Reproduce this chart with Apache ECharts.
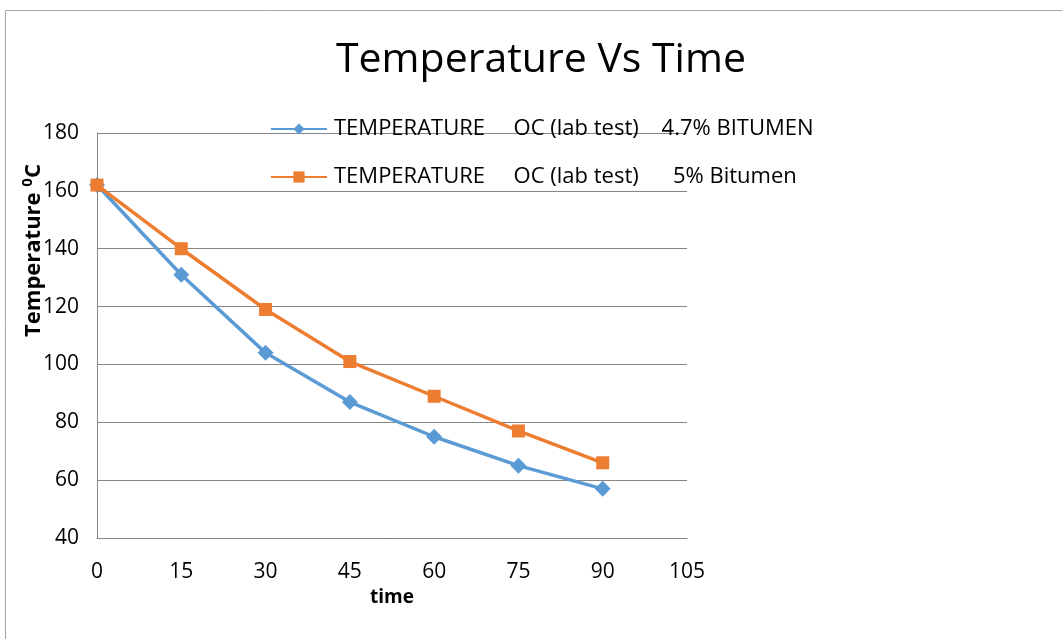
<!DOCTYPE html>
<html><head><meta charset="utf-8">
<script src="https://cdn.jsdelivr.net/npm/echarts@6/dist/echarts.min.js"></script>
<style>html,body{margin:0;padding:0;background:#fff}#c{width:1062px;height:639px}</style>
</head><body><div id="c"></div>
<script>
const times = [0, 15, 30, 45, 60, 75, 90];
const temp47 = [162, 131, 104, 87, 75, 65, 57];
const temp5 = [162, 140, 119, 101, 89, 77, 66];
const seriesNames = ['TEMPERATURE     OC (lab test)    4.7% BITUMEN', 'TEMPERATURE     OC (lab test)      5% Bitumen'];
const titleText = 'Temperature Vs Time';

const FONT = 'Open Sans';
const chart = echarts.init(document.getElementById('c'));
chart.setOption({
  backgroundColor: '#fff',
  animation: false,
  title: {text: titleText, left: 331, top: 35, textStyle: {fontFamily: FONT, fontWeight: 'normal', fontSize: 41, color: '#000'}},
  graphic: [{type: 'polyline', shape: {points: [[5.5, 639], [5.5, 10.5], [1062, 10.5]]}, style: {stroke: '#a6a6a6', lineWidth: 1, fill: null}, z: -1}],
  legend: {
    orient: 'vertical', left: 265, top: 113, itemGap: 26, itemWidth: 56, itemHeight: 14,
    textStyle: {fontFamily: FONT, fontSize: 22, color: '#000', padding: [0, 0, 0, 2]},
    data: seriesNames
  },
  grid: {left: 97, right: 375, top: 133, bottom: 101},
  xAxis: {
    type: 'value', min: 0, max: 105, interval: 15,
    name: 'time', nameLocation: 'middle', nameGap: 50,
    nameTextStyle: {fontFamily: FONT, fontWeight: 'bold', fontSize: 19, color: '#000'},
    axisLine: {lineStyle: {color: '#868686'}}, axisTick: {show: false},
    axisLabel: {fontFamily: FONT, fontSize: 21, color: '#000', margin: 24},
    splitLine: {show: false}
  },
  yAxis: {
    type: 'value', min: 40, max: 180, interval: 20,
    name: 'Temperature {sup|0}C', nameLocation: 'middle', nameGap: 50, nameRotate: 90,
    nameMoveOverlap: false,
    nameTextStyle: {fontFamily: FONT, fontWeight: 'bold', fontSize: 22, color: '#000', padding: [0, 0, 0, 170],
      rich: {sup: {fontFamily: FONT, fontWeight: 'bold', fontSize: 15, verticalAlign: 'top', padding: [0, 0, 12, 0]}}},
    axisLine: {show: true, lineStyle: {color: '#868686'}}, axisTick: {show: false},
    axisLabel: {fontFamily: FONT, fontSize: 21, color: '#000', margin: 18},
    splitLine: {lineStyle: {color: '#868686', width: 1}}
  },
  series: [
    {name: seriesNames[0], type: 'line', data: times.map((t, i) => [t, temp47[i]]),
     symbol: 'diamond', symbolSize: 16, lineStyle: {width: 3.5, color: '#5B9BD5'}, itemStyle: {color: '#5B9BD5'}},
    {name: seriesNames[1], type: 'line', data: times.map((t, i) => [t, temp5[i]]),
     symbol: 'rect', symbolSize: 13, lineStyle: {width: 3.5, color: '#ED7D31'}, itemStyle: {color: '#ED7D31'}}
  ]
});
</script></body></html>
